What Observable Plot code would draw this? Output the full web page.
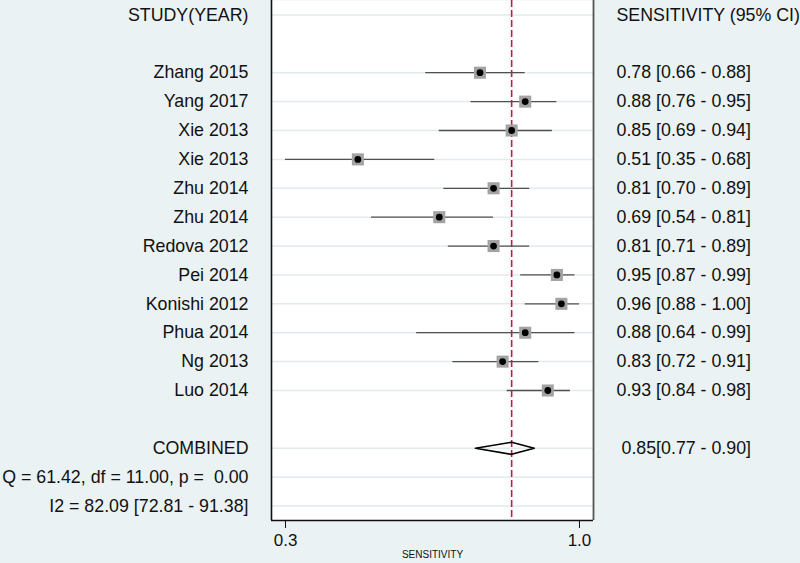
<!DOCTYPE html>
<html>
<head>
<meta charset="utf-8">
<script src="https://cdn.jsdelivr.net/npm/d3@7"></script>
<script src="https://cdn.jsdelivr.net/npm/@observablehq/plot@0.6"></script>
<style>
  html, body { margin: 0; padding: 0; background: #eaf2f3; }
  svg text { white-space: pre; }
</style>
</head>
<body>
<div id="chart"></div>
<script>
// ---- data ----
const studyLabels = ["Zhang 2015", "Yang 2017", "Xie 2013", "Xie 2013", "Zhu 2014", "Zhu 2014",
  "Redova 2012", "Pei 2014", "Konishi 2012", "Phua 2014", "Ng 2013", "Luo 2014"];
const sensitivity = [0.78, 0.88, 0.85, 0.51, 0.81, 0.69, 0.81, 0.95, 0.96, 0.88, 0.83, 0.93];
const ciLow       = [0.66, 0.76, 0.69, 0.35, 0.70, 0.54, 0.71, 0.87, 0.88, 0.64, 0.72, 0.84];
const ciHigh      = [0.88, 0.95, 0.94, 0.68, 0.89, 0.81, 0.89, 0.99, 1.00, 0.99, 0.91, 0.98];
const combinedLabel = "COMBINED";
const combinedValues = [0.85, 0.77, 0.90]; // estimate, low, high
const statLines = ["Q = 61.42, df = 11.00, p =  0.00", "I2 = 82.09 [72.81 - 91.38]"];
const headerLeft = "STUDY(YEAR)";
const headerRight = "SENSITIVITY (95% CI)";
const axisTitle = "SENSITIVITY";
const tickValues = [0.35, 1.0];
const tickLabels = ["0.3", "1.0"];

// ---- layout rows ----
const headerRow = 0;
const firstStudyRow = 2;
const combinedRow = firstStudyRow + studyLabels.length + 1; // 15
const statRows = statLines.map((_, i) => combinedRow + 1 + i);
const xDomain = [0.319, 1.031];
const yDomain = [-0.5, 17.5];

const studies = studyLabels.map((s, i) => ({
  label: s, est: sensitivity[i], lo: ciLow[i], hi: ciHigh[i], row: firstStudyRow + i,
  text: `${sensitivity[i].toFixed(2)} [${ciLow[i].toFixed(2)} - ${ciHigh[i].toFixed(2)}]`
}));
const [cEst, cLo, cHi] = combinedValues;
const combinedText = `${cEst.toFixed(2)}[${cLo.toFixed(2)} - ${cHi.toFixed(2)}]`;

const leftLabels = [
  {label: headerLeft, row: headerRow},
  ...studies.map(d => ({label: d.label, row: d.row})),
  {label: combinedLabel, row: combinedRow},
  ...statLines.map((s, i) => ({label: s, row: statRows[i]}))
];
const gridRows = leftLabels.map(d => d.row);

const dh = 0.21; // diamond half-height (row units)
const diamond = [[cLo, combinedRow], [cEst, combinedRow - dh], [cHi, combinedRow], [cEst, combinedRow + dh], [cLo, combinedRow]];

const font = "'Liberation Sans', Arial, Helvetica, sans-serif";

const chart = Plot.plot({
  width: 800,
  height: 563,
  marginLeft: 271,
  marginRight: 207,
  marginTop: 0,
  marginBottom: 43,
  style: {background: "transparent", fontFamily: font, fontSize: "17px", color: "#111", overflow: "visible"},
  x: {domain: xDomain, ticks: tickValues, tickFormat: d => tickLabels[tickValues.indexOf(d)],
      tickSize: 8, tickPadding: 5, label: null, line: false},
  y: {domain: yDomain, reverse: true, axis: null},
  marks: [
    Plot.frame({fill: "white", stroke: null}),
    Plot.ruleY(gridRows, {y: d => d, stroke: "#e2eaee", strokeWidth: 1.5}),
    Plot.ruleX([xDomain[0]], {stroke: "#111", strokeWidth: 1.6}),
    Plot.ruleX([xDomain[1]], {stroke: "#555", strokeWidth: 1.8}),
    Plot.ruleY([yDomain[1]], {stroke: "#111", strokeWidth: 1.6}),
    Plot.ruleX([cEst], {stroke: "#c41a46", strokeWidth: 1.6, strokeDasharray: "7,3"}),
    Plot.ruleY(studies, {y: "row", x1: "lo", x2: "hi", stroke: "#505050", strokeWidth: 1.3}),
    Plot.dot(studies, {x: "est", y: "row", symbol: "square", r: 6.8, fill: "#a3a3a3", stroke: null}),
    Plot.dot(studies, {x: "est", y: "row", r: 3.4, fill: "#000", stroke: null}),
    Plot.line(diamond, {x: d => d[0], y: d => d[1], stroke: "#000", strokeWidth: 1.6}),
    Plot.text(leftLabels, {y: "row", text: "label", frameAnchor: "left", dx: -23,
      textAnchor: "end", fontSize: 17.8, fill: "#111"}),
    Plot.text([headerRight], {y: () => headerRow, text: d => d, frameAnchor: "right", dx: 23,
      textAnchor: "start", fontSize: 17.8, fill: "#111"}),
    Plot.text(studies, {y: "row", text: "text", frameAnchor: "right", dx: 23,
      textAnchor: "start", fontSize: 17.8, fill: "#111"}),
    Plot.text([combinedText], {y: () => combinedRow, text: d => d, frameAnchor: "right", dx: 28,
      textAnchor: "start", fontSize: 17.8, fill: "#111"}),
    Plot.text([axisTitle], {text: d => d, frameAnchor: "bottom", dy: 37, fontSize: 10, fill: "#111"})
  ]
});
document.getElementById("chart").appendChild(chart);
</script>
</body>
</html>
